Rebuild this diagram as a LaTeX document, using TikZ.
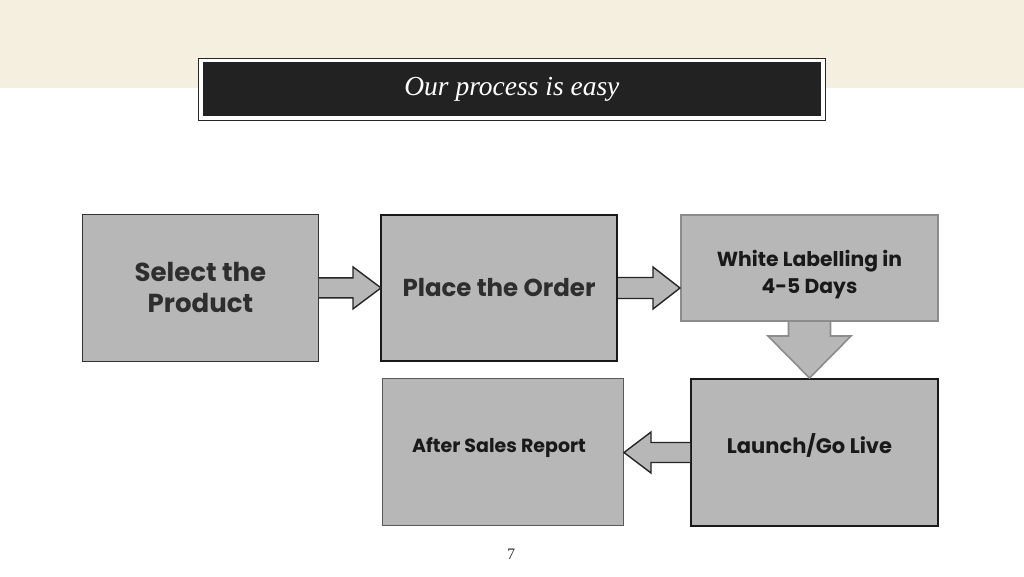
\documentclass[tikz,border=0pt]{standalone}
\usepackage{fontspec}
\setmainfont{Poppins}
\newfontfamily\titlefont{Liberation Serif}
\usetikzlibrary{calc}
\definecolor{beige}{HTML}{F5EFE0}
\definecolor{boxgray}{HTML}{B7B7B7}
\definecolor{titlebg}{HTML}{222222}
\definecolor{darktext}{HTML}{2E2E2E}
\begin{document}
\begin{tikzpicture}[x=1pt,y=-1pt,
  box/.style={fill=boxgray, anchor=north west, inner sep=0pt, align=center, font=\bfseries},
  bigtext/.style={font=\bfseries\fontsize{26}{31}\selectfont, text=darktext},
  midtext/.style={font=\bfseries\fontsize{24.5}{30}\selectfont, text=darktext},
  smalltext/.style={font=\bfseries\fontsize{20.3}{27}\selectfont, text=black!90},
  blockarrow/.style={fill=boxgray, draw=black!85, line width=1.4pt, line join=miter},
  graydarrow/.style={fill=boxgray, draw=black!45, line width=1.6pt, line join=miter}]
\useasboundingbox (0,0) rectangle (1024,576);
\fill[white] (0,0) rectangle (1024,576);
\fill[beige] (0,0) rectangle (1024,88);
% title
\node[fill=white, draw=black!85, line width=0.8pt, minimum width=627pt, minimum height=62pt, anchor=north west, inner sep=0pt] (tframe) at (198,58) {};
\node[fill=titlebg, minimum width=618pt, minimum height=54pt, inner sep=0pt, text=white, font=\titlefont\itshape\fontsize{27.5}{30}\selectfont] (title) at (tframe.center) {\raisebox{-1.5pt}{Our process is easy}};
% boxes
\node[box, draw=black!80, line width=0.8pt, minimum width=236pt, minimum height=147pt, bigtext] (b1) at (82,214) {Select the\\Product};
\node[box, draw=black!90, line width=2pt, minimum width=236pt, minimum height=146pt, midtext] (b2) at (380,214) {Place the Order};
\node[box, draw=black!45, line width=2pt, minimum width=257pt, minimum height=106pt] (b3) at (680,214) {};
\node[smalltext, align=center] (t3) at ($(b3.center)+(0,7)$) {White Labelling in\\4-5 Days};
\node[box, draw=black!90, line width=2pt, minimum width=247pt, minimum height=147pt] (b4) at (690,378) {};
\node[smalltext, font=\bfseries\fontsize{21}{27}\selectfont] (t4) at ($(b4.center)+(-5,-7)$) {Launch/Go Live};
\node[box, draw=black!65, line width=1pt, minimum width=241pt, minimum height=147pt] (b5) at (382,378) {};
\node[smalltext, font=\bfseries\fontsize{19}{27}\selectfont] (t5) at ($(b5.center)+(-4,-4)$) {After Sales Report};
% arrows
\filldraw[blockarrow] let \p1=(b1.east), \p2=(b2.west) in
  (\x1,\y1+10pt) -- (\x2-27pt,\y1+10pt) -- (\x2-27pt,\y1+21pt) -- (\x2+1pt,\y1) -- (\x2-27pt,\y1-21pt) -- (\x2-27pt,\y1-10pt) -- (\x1,\y1-10pt);
\filldraw[blockarrow] let \p1=(b2.east), \p2=(b3.west) in
  (\x1,\y1+10.5pt) -- (\x2-27pt,\y1+10.5pt) -- (\x2-27pt,\y1+21pt) -- (\x2,\y1) -- (\x2-27pt,\y1-21pt) -- (\x2-27pt,\y1-10.5pt) -- (\x1,\y1-10.5pt);
\filldraw[graydarrow] let \p1=(b3.south), \p2=(b4.north) in
  (\x1-21pt,\y1) -- (\x1-21pt,\y2+42pt) -- (\x1-41.5pt,\y2+42pt) -- (\x1,\y2) -- (\x1+41.5pt,\y2+42pt) -- (\x1+21pt,\y2+42pt) -- (\x1+21pt,\y1);
\filldraw[blockarrow] let \p1=(b4.west), \p2=(b5.east) in
  (\x1,\y1+10pt) -- (\x2+27pt,\y1+10pt) -- (\x2+27pt,\y1+20.5pt) -- (\x2,\y1) -- (\x2+27pt,\y1-20.5pt) -- (\x2+27pt,\y1-10pt) -- (\x1,\y1-10pt);
% page number
\node[font=\titlefont\fontsize{16}{18}\selectfont, text=black!80] (pg) at (511,554) {7};
\end{tikzpicture}
\end{document}
